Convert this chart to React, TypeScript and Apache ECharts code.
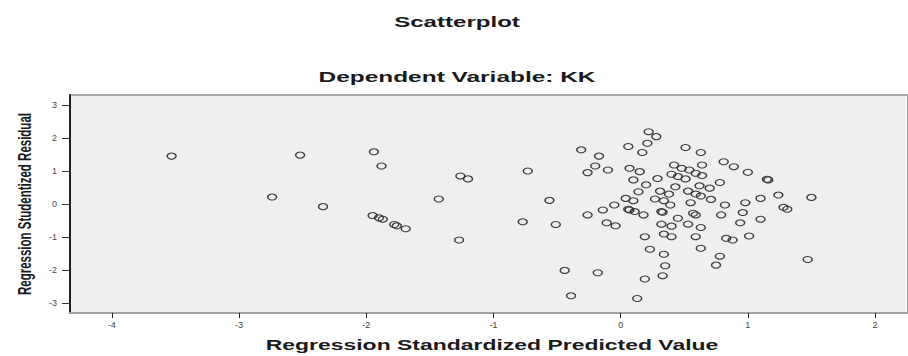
import React, { useEffect, useRef } from "react";
import * as echarts from "echarts";

const chartTitle = "Scatterplot";
const chartSubtitle = "Dependent Variable: KK";
const xAxisTitle = "Regression Standardized Predicted Value";
const yAxisTitle = "Regression Studentized Residual";

const xTicks = [-4, -3, -2, -1, 0, 1, 2];
const yTicks = [-3, -2, -1, 0, 1, 2, 3];

const predicted = [
  -3.53, -2.74, -2.52, -2.34, -1.94, -1.88, -1.95, -1.9, -1.87, -1.78, -1.76, -1.69, -1.43,
  -1.26, -1.2, -1.27, -0.73, -0.77, -0.56, -0.51, -0.44, -0.39, -0.31, -0.26, -0.26, -0.18,
  0.22, 0.28, 0.21, 0.06, 0.17, 0.51, 0.63, -0.17, -0.2, -0.1,
  0.07, 0.15, 0.42, 0.48, 0.54, 0.64, 0.81, 0.89, 1.0, 1.15,
  1.16, 0.4, 0.45, 0.59, 0.64, 0.51, 0.1, 0.29, 0.78, 0.2,
  0.43, 0.62, 0.7, 0.14, 0.31, 0.38, 0.53, 0.59, 0.63, 0.04,
  0.1, 0.27, 0.34, 0.39, 0.55, 0.71, 1.1, 1.24, 1.5, -0.05,
  0.82, 0.98, -0.14, 0.06, 0.07, 0.11, 0.18, 0.32, 0.33, 0.57,
  0.59, 0.79, 0.96, 1.28, 1.31, -0.11, -0.04, 0.45, 0.32, 0.4,
  0.53, 0.63, 0.94, 1.1, 0.19, 0.34, 0.4, 0.59, 0.83, 0.88,
  1.01, 0.23, 0.34, 0.63, 0.78, 0.75, 0.35, 1.47, 0.19, 0.33,
  0.13,
];

const residual = [
  1.45, 0.21, 1.48, -0.08, 1.58, 1.15, -0.35, -0.42, -0.46, -0.62, -0.66, -0.75, 0.15,
  0.85, 0.76, -1.09, 1.0, -0.54, 0.11, -0.62, -2.01, -2.78, 1.64, 0.95, -0.33, -2.08,
  2.19, 2.04, 1.84, 1.74, 1.56, 1.71, 1.56, 1.45, 1.15, 1.03,
  1.08, 0.98, 1.18, 1.08, 1.03, 1.18, 1.28, 1.13, 0.96, 0.75,
  0.73, 0.9, 0.83, 0.93, 0.86, 0.76, 0.73, 0.77, 0.65, 0.58,
  0.52, 0.55, 0.48, 0.37, 0.39, 0.3, 0.39, 0.3, 0.24, 0.17,
  0.1, 0.15, 0.1, -0.03, 0.04, 0.14, 0.17, 0.27, 0.2, -0.03,
  -0.03, 0.04, -0.18, -0.16, -0.18, -0.23, -0.33, -0.23, -0.25, -0.28,
  -0.33, -0.33, -0.26, -0.1, -0.16, -0.57, -0.66, -0.43, -0.61, -0.67,
  -0.61, -0.71, -0.57, -0.46, -0.99, -0.91, -0.99, -0.99, -1.04, -1.09,
  -0.97, -1.37, -1.52, -1.34, -1.58, -1.85, -1.87, -1.68, -2.27, -2.17,
  -2.86,
];

const FONT = "'Liberation Sans', Arial, Helvetica, sans-serif";

export default function App() {
  const ref = useRef<HTMLDivElement>(null);

  useEffect(() => {
    if (!ref.current) return;
    const chart = echarts.init(ref.current, undefined, { renderer: "svg" });
    const points = predicted.map((x, i) => [x, residual[i]]);

    const titleText = (text: string, x: number, y: number, size: number, sx: number) => ({
      type: "text",
      x,
      y,
      scaleX: sx,
      silent: true,
      style: {
        text,
        x: 0,
        y: 0,
        fill: "#1a1a1a",
        font: `bold ${size}px ${FONT}`,
        textAlign: "center",
        textVerticalAlign: "middle",
        align: "center",
        verticalAlign: "middle",
      },
    });

    chart.setOption({
      animation: false,
      backgroundColor: "#ffffff",
      grid: {
        left: 70,
        right: -2,
        top: 95,
        bottom: 43,
        show: true,
        backgroundColor: "#efefef",
        borderColor: "#a9a9a9",
        borderWidth: 2,
        containLabel: false,
      },
      xAxis: {
        type: "value",
        min: -4.329,
        max: 2.259,
        splitLine: { show: false },
        axisLine: { show: true, onZero: false, lineStyle: { color: "#a0a0a0", width: 2 } },
        axisTick: {
          show: true,
          length: 5,
          customValues: xTicks,
          lineStyle: { color: "#222", width: 1 },
        },
        axisLabel: {
          customValues: xTicks,
          fontSize: 9,
          color: "#444",
          fontFamily: FONT,
          margin: 7,
        },
      },
      yAxis: {
        type: "value",
        min: -3.3,
        max: 3.3,
        splitLine: { show: false },
        axisLine: { show: true, onZero: false, lineStyle: { color: "#222", width: 2 } },
        axisTick: {
          show: true,
          length: 8,
          customValues: yTicks,
          lineStyle: { color: "#333", width: 1 },
        },
        axisLabel: {
          customValues: yTicks,
          fontSize: 9,
          color: "#444",
          fontFamily: FONT,
          margin: 13,
        },
      },
      graphic: [
        titleText(chartTitle, 457, 22, 14, 1.72),
        titleText(chartSubtitle, 457, 77, 15, 1.63),
        titleText(xAxisTitle, 492, 345, 14, 1.64),
        {
          type: "text",
          x: 24,
          y: 204,
          rotation: Math.PI / 2,
          scaleY: 1.55,
          silent: true,
          style: {
            text: yAxisTitle,
            x: 0,
            y: 0,
            fill: "#1a1a1a",
            font: `bold 11.5px ${FONT}`,
            textAlign: "center",
            textVerticalAlign: "middle",
            align: "center",
            verticalAlign: "middle",
          },
        },
      ],
      series: [
        {
          type: "scatter",
          data: points,
          symbol: "circle",
          symbolSize: [9, 6],
          itemStyle: {
            color: "rgba(0,0,0,0)",
            borderColor: "#3a3a3a",
            borderWidth: 1.2,
            opacity: 1,
          },
          emphasis: { disabled: true },
        },
      ],
    });

    return () => chart.dispose();
  }, []);

  return (
    <div
      ref={ref}
      style={{ position: "absolute", left: 0, top: 0, width: 908, height: 356 }}
    />
  );
}
